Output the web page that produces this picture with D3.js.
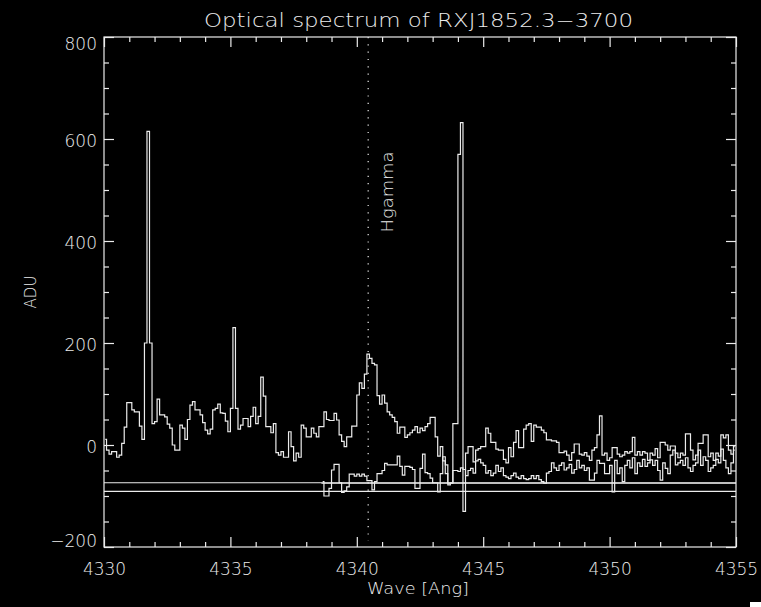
<!DOCTYPE html>
<html>
<head>
<meta charset="utf-8">
<script src="https://cdn.jsdelivr.net/npm/d3@7"></script>
<style>
    body { margin: 0; background: #000; }
    svg { display: block; background: #000; }
    text { fill: #ececec; font-family: "DejaVu Sans", sans-serif; font-weight: 200; }
</style>
</head>
<body>
<svg id="chart" width="761" height="607"></svg>
<script>
/*
    Optical spectrum of RXJ1852.3-3700, drawn IDL style
 */

// both spectra sit on the same 0.1 Ang grid
const waveStep = 0.1;

const spec1Start = 4330.0;
const spec1Values = [
    11, -10, -18, -13, -13, -24, -20, 3, 35, 83,
    83, 69, 65, 65, 37, 11, 200, 615, 200, 42,
    46, 90, 59, 59, 55, 41, 33, 0, -10, -10,
    39, 33, 11, 50, 78, 85, 69, 69, 59, 44,
    29, 22, 31, 69, 72, 80, 63, 62, 47, 26,
    72, 230, 72, 31, 39, 52, 52, 36, 56, 74,
    42, 56, 133, 96, 36, 36, 24, 42, -15, -20,
    -13, -24, -24, 26, -3, -31, -16, -24, 39, 33,
    16, 16, 33, 23, 16, 36, 36, 65, 50, 48,
    48, 62, 49, 20, 7, -3, 16, 16, 37, 37,
    98, 122, 111, 139, 178, 170, 160, 157, 97, 80,
    98, 82, 65, 59, 54, 46, 23, 35, 35, 15,
    20, 24, 29, 36, 24, 33, 28, 36, 42, 54,
    54, 16, -22, -3, -31, -56, -78, -74, 42, 42,
    570, 632, -130, -16, -3, -3, -33, -10, -7, -3,
    -3, 33, 23, 5, 5, -8, -10, -10, -28, -35,
    -5, -23, 5, 28, -5, -5, 31, 39, 42, 7,
    39, 35, 35, 29, 24, 10, 10, 8, 8, 5,
    -15, -15, -12, -20, -30, -15, 2, 2, -18, -20,
    -15, -22, -30, -10, -5, 20, 57, -20, -16, -30,
    -25, -5, -5, -18, -23, -20, -13, -16, -13, 15,
    -20, -13, -20, -13, -16, -30, -16, -20, -7, -25,
    5, 5, 0, -10, -2, -2, -16, -25, -16, -20,
    22, 22, -10, -29, -20, 3, 3, 20, 20, -23,
    -16, -30, -16, -22, 20, 14, 20, -10, -18, -3
];

const spec2Start = 4338.6;
const spec2Values = [
    -72, -100, -100, -85, -49, -38, -38, -74, -93, -90,
    -82, -57, -57, -61, -57, -61, -57, -61, -70, -70,
    -88, -72, -56, -56, -50, -36, -39, -39, -39, -39,
    -22, -42, -59, -42, -42, -44, -48, -85, -85, -46,
    -18, -54, -56, -65, -74, -74, -92, -56, -23, -39,
    -75, -75, -50, -50, -52, -45, -48, -60, -50, -46,
    -55, -31, -28, -35, -40, -55, -50, -60, -55, -40,
    -52, -45, -60, -63, -66, -60, -55, -63, -66, -60,
    -66, -68, -66, -60, -66, -60, -68, -72, -75, -55,
    -52, -35, -45, -50, -40, -35, -49, -45, -38, -55,
    -48, -30, -45, -40, -50, -45, -69, -69, -55, -30,
    -36, -36, -56, -56, -40, -92, -30, -56, -45, -72,
    -40, -30, -45, -25, -56, -35, -42, -28, -42, -35,
    -29, -40, -30, -50, -69, -35, -46, -56, -20, -10,
    -39, -35, -30, -40, -25, -45, -52, -40, -35, -10,
    -40, -23, -30, -52, -45, -40, -28, -35, -8, -30,
    -45, -56, -35, -10
];

// flat reference levels [ADU] and where they start
const baselineLevels = [-74, -75, -91];
const baselineStarts = [4330, 4338.6, 4330];

const hgammaWave = 4340.45;
const xDomain = [4330, 4355];
const yDomain = [-200, 800];
const xMajorTicks = [4330, 4335, 4340, 4345, 4350, 4355];
const yMajorTicks = [-200, 0, 200, 400, 600, 800];

const LEFT = 104, RIGHT = 736, TOP = 37, BOTTOM = 547;
const INK = "#ececec";

let svg = d3.select("#chart");

let xScale = d3.scaleLinear().domain(xDomain).range([LEFT, RIGHT]);
let yScale = d3.scaleLinear().domain(yDomain).range([BOTTOM, TOP]);

function toPoints(start, values) {
    return values.map((v, i) => [start + waveStep * (i + 0.5), v]);
}

function drawSpectrum(points) {
    let line = d3.line()
        .x(d => xScale(d[0]))
        .y(d => yScale(d[1]))
        .curve(d3.curveStep);
    svg.append("path")
        .attr("class", "spectrum")
        .attr("clip-path", "url(#plot-clip)")
        .attr("d", line(points))
        .attr("fill", "none")
        .attr("stroke", INK)
        .attr("stroke-width", 1.2);
}

function drawAxes() {
    // ticks point inwards on all four sides, labels only left and bottom
    let xMinor = xScale.ticks(25).filter(t => !xMajorTicks.includes(t));
    let yMinor = yScale.ticks(20).filter(t => !yMajorTicks.includes(t));

    let axes = [
        [d3.axisBottom(xScale), `translate(0,${BOTTOM})`, xMajorTicks, xMinor, true],
        [d3.axisTop(xScale), `translate(0,${TOP})`, xMajorTicks, xMinor, false],
        [d3.axisLeft(yScale), `translate(${LEFT},0)`, yMajorTicks, yMinor, true],
        [d3.axisRight(yScale), `translate(${RIGHT},0)`, yMajorTicks, yMinor, false]
    ];

    axes.forEach(([axis, transform, major, minor, labelled]) => {
        let g = svg.append("g").attr("transform", transform);
        g.call(axis.tickValues(major).tickSize(-10).tickPadding(labelled ? 16 : 0)
            .tickFormat(labelled ? d3.format("d") : ""));
        svg.append("g").attr("transform", transform)
            .call(axis.tickValues(minor).tickSize(-5).tickFormat(""));
    });

    svg.selectAll(".domain").remove();
    svg.selectAll(".tick line").attr("stroke", INK).attr("stroke-width", 1.2);
    svg.selectAll(".tick text")
        .attr("font-family", null)
        .attr("font-size", null)
        .style("font-size", "17px")
        .attr("fill", INK);
}

function nudgeYLabels() {
    // y labels sit right next to the axis, the end ones pulled inside the frame
    svg.selectAll(".tick text")
        .filter(d => yMajorTicks.includes(d) && !xMajorTicks.includes(d))
        .attr("x", -7)
        .attr("y", d => d === 800 ? 7 : d === -200 ? -5.5 : 2);
}

svg.append("clipPath").attr("id", "plot-clip")
    .append("rect")
    .attr("x", LEFT).attr("y", TOP)
    .attr("width", RIGHT - LEFT).attr("height", BOTTOM - TOP);

drawAxes();
nudgeYLabels();

// frame
svg.append("rect")
    .attr("x", LEFT).attr("y", TOP)
    .attr("width", RIGHT - LEFT).attr("height", BOTTOM - TOP)
    .attr("fill", "none")
    .attr("stroke", INK)
    .attr("stroke-width", 1.2);

// Hgamma marker
svg.append("line")
    .attr("x1", xScale(hgammaWave)).attr("x2", xScale(hgammaWave))
    .attr("y1", yScale(yDomain[1])).attr("y2", yScale(yDomain[0]) - 6)
    .attr("stroke", INK)
    .attr("stroke-width", 1.2)
    .attr("stroke-dasharray", "1.2,6.1");

svg.append("text")
    .attr("transform", `translate(${xScale(hgammaWave) + 25},192) rotate(-90)`)
    .attr("text-anchor", "middle")
    .attr("textLength", 81)
    .attr("lengthAdjust", "spacingAndGlyphs")
    .style("font-size", "15px")
    .text("Hgamma");

baselineLevels.forEach((level, i) => {
    svg.append("line")
        .attr("x1", xScale(baselineStarts[i])).attr("x2", RIGHT)
        .attr("y1", yScale(level)).attr("y2", yScale(level))
        .attr("stroke", INK)
        .attr("stroke-width", 1.2);
});

drawSpectrum(toPoints(spec1Start, spec1Values));
drawSpectrum(toPoints(spec2Start, spec2Values));

// titles
svg.append("text")
    .attr("x", 418.5).attr("y", 27)
    .attr("text-anchor", "middle")
    .attr("textLength", 429)
    .attr("lengthAdjust", "spacingAndGlyphs")
    .style("font-size", "19px")
    .text("Optical spectrum of RXJ1852.3\u22123700");

svg.append("text")
    .attr("x", 418).attr("y", 594)
    .attr("text-anchor", "middle")
    .attr("textLength", 102)
    .attr("lengthAdjust", "spacingAndGlyphs")
    .style("font-size", "15px")
    .text("Wave [Ang]");

svg.append("text")
    .attr("transform", "translate(36,292) rotate(-90)")
    .attr("text-anchor", "middle")
    .style("font-size", "15px")
    .text("ADU");

// stray mark in the bottom right corner
svg.append("rect")
    .attr("x", 750).attr("y", 602)
    .attr("width", 11).attr("height", 5)
    .attr("fill", "#fff");
</script>
</body>
</html>
